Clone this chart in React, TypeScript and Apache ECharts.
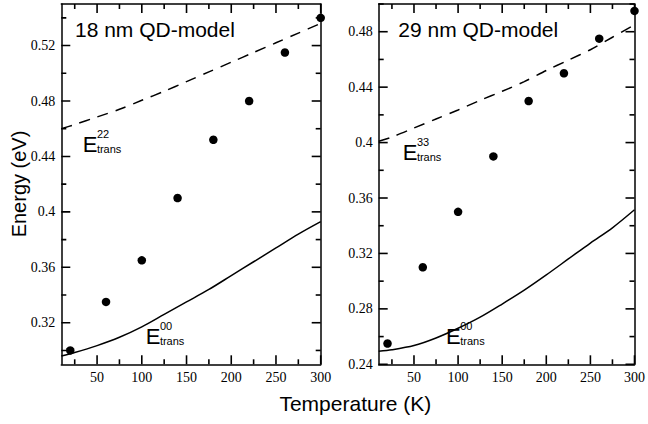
import React, { useEffect, useRef } from "react";
import * as echarts from "echarts";

// ---- data ----
const temps = [20, 60, 100, 140, 180, 220, 260, 300];
const measured18 = [0.3, 0.335, 0.365, 0.41, 0.452, 0.48, 0.515, 0.54];
const measured29 = [0.255, 0.31, 0.35, 0.39, 0.43, 0.45, 0.475, 0.495];

const modelT = [10, 25, 50, 75, 100, 125, 150, 175, 200, 225, 250, 275, 300];
const e22_18 = [0.46, 0.463, 0.4685, 0.474, 0.4805, 0.487, 0.494, 0.501, 0.508, 0.515, 0.522, 0.529, 0.536];
const e00_18 = [0.296, 0.2985, 0.3035, 0.3095, 0.317, 0.326, 0.335, 0.344, 0.354, 0.364, 0.374, 0.384, 0.393];
const e33_29 = [0.401, 0.404, 0.4105, 0.417, 0.4235, 0.4305, 0.437, 0.444, 0.452, 0.4595, 0.467, 0.476, 0.485];
const e00_29 = [0.2495, 0.2505, 0.2535, 0.259, 0.266, 0.274, 0.2835, 0.2935, 0.3045, 0.316, 0.3275, 0.3385, 0.3515];

const xMajor = [50, 100, 150, 200, 250, 300];
const xMinor = [25, 75, 125, 175, 225, 275];
const yMajor18 = [0.32, 0.36, 0.4, 0.44, 0.48, 0.52];
const yMinor18 = [0.3, 0.34, 0.38, 0.42, 0.46, 0.5, 0.54];
const yMajor29 = [0.24, 0.28, 0.32, 0.36, 0.4, 0.44, 0.48];
const yMinor29 = [0.26, 0.3, 0.34, 0.38, 0.42, 0.46, 0.5];

const titles = ["18 nm QD-model", "29 nm QD-model"];
const xTitle = "Temperature (K)";
const yTitle = "Energy (eV)";

const SANS = '"Liberation Sans", Arial, sans-serif';
const INK = "#000";
const X_MIN = 10;
const X_MAX = 300;

function zip(xs: number[], ys: number[]) {
  return xs.map((x, i) => [x, ys[i]]);
}

function xAxis(grid: number, pos: string, label: boolean) {
  return {
    type: "value",
    gridIndex: grid,
    position: pos,
    min: X_MIN,
    max: X_MAX,
    axisLine: { show: true, onZero: false, lineStyle: { color: INK, width: 1.5 } },
    axisTick: { show: false },
    axisLabel: label
      ? { show: true, customValues: xMajor, margin: 6, color: INK, fontFamily: "Liberation Serif", fontSize: 14 }
      : { show: false },
    splitLine: { show: false },
  };
}

function yAxis(grid: number, pos: string, label: boolean, min: number, max: number, major: number[]) {
  return {
    type: "value",
    gridIndex: grid,
    position: pos,
    min,
    max,
    axisLine: { show: true, onZero: false, lineStyle: { color: INK, width: 1.5 } },
    axisTick: { show: false },
    axisLabel: label
      ? { show: true, customValues: major, margin: 6, color: INK, fontFamily: "Liberation Serif", fontSize: 14 }
      : { show: false },
    splitLine: { show: false },
  };
}

// one tick mark per data item: [x, y, side (0 bottom, 1 top, 2 left, 3 right), major flag]
function tickSeries(axisIdx: number, yMin: number, yMajor: number[], yMinor: number[]) {
  const data: number[][] = [];
  for (const side of [0, 1]) {
    xMajor.forEach((v) => data.push([v, yMin, side, 1]));
    xMinor.forEach((v) => data.push([v, yMin, side, 0]));
  }
  for (const side of [2, 3]) {
    yMajor.forEach((v) => data.push([X_MIN, v, side, 1]));
    yMinor.forEach((v) => data.push([X_MIN, v, side, 0]));
  }
  return {
    type: "custom",
    xAxisIndex: axisIdx,
    yAxisIndex: axisIdx,
    silent: true,
    data,
    renderItem: (params: any, api: any) => {
      const cs = params.coordSys;
      const p = api.coord([api.value(0), api.value(1)]);
      const len = api.value(3) ? 9 : 5;
      const side = api.value(2);
      const w = 1.6;
      let shape;
      if (side === 0) {
        const b = cs.y + cs.height;
        shape = { x: p[0] - w / 2, y: b - len, width: w, height: len };
      } else if (side === 1) {
        shape = { x: p[0] - w / 2, y: cs.y, width: w, height: len };
      } else if (side === 2) {
        shape = { x: cs.x, y: p[1] - w / 2, width: len, height: w };
      } else {
        const r = cs.x + cs.width;
        shape = { x: r - len, y: p[1] - w / 2, width: len, height: w };
      }
      return { type: "rect", shape, style: { fill: INK } };
    },
  };
}

function eLabel(x: number, top: number, bottom: number, sup: string) {
  return [
    { type: "text", x, y: (top + bottom) / 2 + 1.3, style: { text: "E", font: `22px ${SANS}`, fill: INK, verticalAlign: "middle", align: "left" } },
    { type: "text", x: x + 14.2, y: top - 1.4, style: { text: sup, font: `11px ${SANS}`, fill: INK, verticalAlign: "middle", align: "left" } },
    { type: "text", x: x + 14.2, y: bottom - 1.7, style: { text: "trans", font: `11px ${SANS}`, fill: INK, verticalAlign: "middle", align: "left" } },
  ];
}

export default function App() {
  const ref = useRef<HTMLDivElement>(null);
  useEffect(() => {
    if (!ref.current) return;
    const chart = echarts.init(ref.current, null, { renderer: "svg" });
    const lineCommon = { type: "line", showSymbol: false, smooth: 0.3, silent: true };
    const dotStyle = { color: INK, opacity: 1 };
    const option: any = {
      animation: false,
      grid: [
        { left: 61.3, top: 4, width: 259.4, height: 360.3 },
        { left: 378.7, top: 4, width: 258, height: 360.3 },
      ],
      xAxis: [xAxis(0, "bottom", true), xAxis(0, "top", false), xAxis(1, "bottom", true), xAxis(1, "top", false)],
      yAxis: [
        yAxis(0, "left", true, 0.29, 0.55, yMajor18),
        yAxis(0, "right", false, 0.29, 0.55, yMajor18),
        yAxis(1, "left", true, 0.24, 0.5, yMajor29),
        yAxis(1, "right", false, 0.24, 0.5, yMajor29),
      ],
      series: [
        tickSeries(0, 0.29, yMajor18, yMinor18),
        { ...lineCommon, xAxisIndex: 0, yAxisIndex: 0, data: zip(modelT, e22_18), lineStyle: { color: INK, width: 1.5, type: [11, 8] } },
        { ...lineCommon, xAxisIndex: 0, yAxisIndex: 0, data: zip(modelT, e00_18), lineStyle: { color: INK, width: 1.5 } },
        { type: "scatter", xAxisIndex: 0, yAxisIndex: 0, data: zip(temps, measured18), symbolSize: 8.5, itemStyle: dotStyle, clip: false },
        tickSeries(2, 0.24, yMajor29, yMinor29),
        { ...lineCommon, xAxisIndex: 2, yAxisIndex: 2, data: zip(modelT, e33_29), lineStyle: { color: INK, width: 1.5, type: [11, 8] } },
        { ...lineCommon, xAxisIndex: 2, yAxisIndex: 2, data: zip(modelT, e00_29), lineStyle: { color: INK, width: 1.5 } },
        { type: "scatter", xAxisIndex: 2, yAxisIndex: 2, data: zip(temps, measured29), symbolSize: 8.5, itemStyle: dotStyle, clip: false },
      ],
      graphic: [
        { type: "text", x: 75, y: 29, style: { text: titles[0], font: `21px ${SANS}`, fill: INK, verticalAlign: "middle", align: "left" } },
        { type: "text", x: 398.3, y: 29, style: { text: titles[1], font: `21px ${SANS}`, fill: INK, verticalAlign: "middle", align: "left" } },
        { type: "text", x: 355.3, y: 403, style: { text: xTitle, font: `21px ${SANS}`, fill: INK, verticalAlign: "middle", align: "center" } },
        { type: "text", x: 19.4, y: 184, rotation: Math.PI / 2, style: { text: yTitle, font: `20px ${SANS}`, fill: INK, verticalAlign: "middle", align: "center" } },
        ...eLabel(82.7, 135, 151, "22"),
        ...eLabel(145.7, 327, 343, "00"),
        ...eLabel(402.7, 143, 159, "33"),
        ...eLabel(446, 327, 343, "00"),
      ],
    };
    chart.setOption(option);
    return () => chart.dispose();
  }, []);
  return <div ref={ref} style={{ position: "absolute", left: 0, top: 0, width: 648, height: 424, background: "#fff" }} />;
}
